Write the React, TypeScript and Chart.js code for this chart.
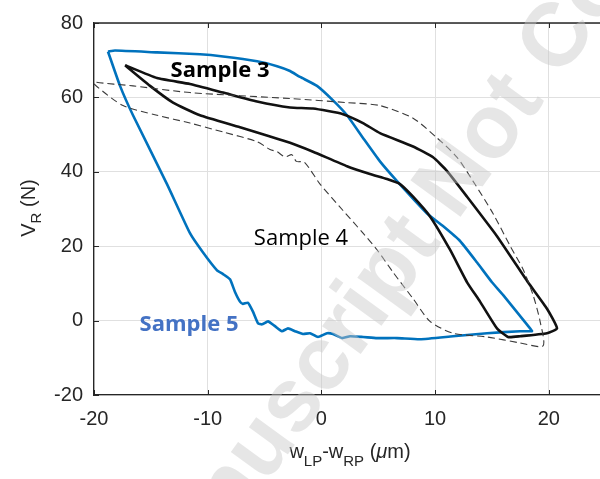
import React, { useEffect, useRef } from "react";
import { Chart, registerables } from "chart.js";

Chart.register(...registerables);

// ---- data ----
const sample5X = [-18.77, -18.15, -14.46, -10.68, -8.65, -5.66, -3.9, -2.76, -1.88, -0.39, 1.02, 2.25, 3.66, 5.15, 6.65, 9.29, 10.69, 12.19, 13.69, 15.0, 15.97, 18.35, 18.52, 17.47, 14.57, 11.57, 8.67, 6.65, 4.89, 3.66, 2.52, 1.81, 1.02, 0.49, -0.3, -1.0, -1.62, -2.32, -2.94, -3.47, -4.08, -4.7, -5.22, -5.58, -6.02, -6.46, -6.9, -7.16, -7.6, -8.04, -8.65, -9.18, -10.41, -11.56, -13.58, -16.57, -17.71, -18.77];
const sample5Y = [72.35, 72.6, 72.1, 71.6, 71.0, 69.7, 68.4, 67.1, 65.5, 63.1, 59.2, 55.2, 49.1, 42.8, 37.5, 28.8, 25.4, 21.4, 15.6, 10.3, 6.9, -2.1, -2.85, -2.85, -3.4, -4.2, -5.0, -4.7, -4.7, -4.4, -4.2, -4.7, -3.6, -3.4, -4.4, -3.4, -3.6, -2.85, -2.1, -2.85, -1.5, -0.2, -1.0, -0.7, 2.4, 4.8, 4.5, 5.1, 7.7, 11.1, 12.5, 13.5, 18.3, 23.5, 36.7, 55.2, 63.1, 72.35];

const sample3X = [-17.27, -14.46, -11.56, -8.65, -5.66, -2.76, -0.74, 1.9, 3.66, 5.15, 8.06, 9.82, 11.05, 12.81, 15.44, 18.17, 19.84, 20.72, 19.84, 17.47, 16.41, 15.44, 13.95, 12.81, 11.31, 9.55, 8.06, 6.91, 5.77, 4.27, 2.25, -0.74, -2.76, -7.16, -10.68, -13.05, -15.07, -17.27];
const sample3Y = [68.65, 65.2, 63.6, 61.3, 58.9, 57.3, 57.0, 55.5, 53.1, 50.4, 46.8, 43.9, 40.2, 33.3, 22.7, 10.3, 3.2, -2.1, -3.4, -4.2, -4.4, -2.1, 5.1, 10.3, 19.05, 28.0, 33.3, 36.7, 38.05, 39.4, 41.5, 45.4, 47.8, 52.0, 55.2, 58.6, 63.1, 68.65];

const sample4X = [-20.6, -20, -16.57, -11.56, -2.76, 2.25, 5.15, 8.06, 10.17, 11.93, 13.33, 15.09, 16.59, 17.73, 18.61, 19.23, 19.49, 17.47, 14.57, 11.57, 9.55, 8.06, 6.3, 4.89, 3.66, 1.9, -0.12, -1.5, -2.2, -2.6, -3.2, -3.9, -4.52, -5.66, -8.65, -11.56, -14.46, -17.45, -19.7, -20.6];
const sample4Y = [65.5, 64.2, 63.1, 61.3, 59.7, 58.6, 57.8, 54.4, 49.1, 43.9, 37.5, 28.8, 20.1, 13.8, 6.9, -0.2, -6.8, -6.0, -4.4, -3.4, -0.2, 5.9, 13.0, 19.05, 23.5, 29.6, 36.7, 42.6, 42.8, 44.6, 44.0, 45.4, 46.0, 48.1, 50.7, 53.1, 55.2, 57.8, 62.8, 65.5];

const xTickValues = [-20, -10, 0, 10, 20];
const yTickValues = [-20, 0, 20, 40, 60, 80];
const xLimits = [-20, 24.5];
const yLimits = [-20, 80];

const seriesLabels = ["Sample 3", "Sample 4", "Sample 5"];
const watermarkText = "Accepted Manuscript Not Copyedited";

const toPoints = (xs: number[], ys: number[]) => xs.map((x, i) => ({ x, y: ys[i] }));

const AXIS_COLOR = "#262626";

type Seg = { text: string; font: string; dy: number };

function drawRich(ctx: CanvasRenderingContext2D, segs: Seg[], cx: number, cy: number) {
  let total = 0;
  const widths = segs.map((s) => {
    ctx.font = s.font;
    const w = ctx.measureText(s.text).width;
    total += w;
    return w;
  });
  let x = cx - total / 2;
  segs.forEach((s, i) => {
    ctx.font = s.font;
    ctx.fillText(s.text, x, cy + s.dy);
    x += widths[i];
  });
}

const decorPlugin = {
  id: "decor",
  afterDatasetsDraw(chart: any) {
    const ctx: CanvasRenderingContext2D = chart.ctx;
    const { left, right, top, bottom } = chart.chartArea;
    const xs = chart.scales.x;
    const ys = chart.scales.y;
    ctx.save();
    // top border
    ctx.strokeStyle = AXIS_COLOR;
    ctx.lineWidth = 1.3;
    ctx.beginPath();
    ctx.moveTo(left, top);
    ctx.lineTo(right, top);
    ctx.stroke();
    // inward tick marks
    ctx.lineWidth = 1;
    ctx.beginPath();
    xTickValues.forEach((v) => {
      const px = Math.round(xs.getPixelForValue(v)) + 0.5;
      ctx.moveTo(px, bottom);
      ctx.lineTo(px, bottom - 5);
      ctx.moveTo(px, top);
      ctx.lineTo(px, top + 5);
    });
    yTickValues.forEach((v) => {
      const py = Math.round(ys.getPixelForValue(v)) + 0.5;
      ctx.moveTo(left, py);
      ctx.lineTo(left + 5, py);
    });
    ctx.stroke();

    // annotations
    ctx.textAlign = "left";
    ctx.textBaseline = "alphabetic";
    ctx.fillStyle = "#000000";
    drawRich(ctx, [{ text: seriesLabels[0], font: "bold 22px 'Open Sans', sans-serif", dy: 0 }], 220, 77);
    drawRich(ctx, [{ text: seriesLabels[1], font: "22px 'Open Sans', sans-serif", dy: 0 }], 301, 245);
    ctx.fillStyle = "#4472C4";
    drawRich(ctx, [{ text: seriesLabels[2], font: "bold 22px 'Open Sans', sans-serif", dy: 0 }], 189, 331);

    // axis titles
    ctx.fillStyle = AXIS_COLOR;
    const big = "20px 'Liberation Sans', Arial, sans-serif";
    const small = "15px 'Liberation Sans', Arial, sans-serif";
    const ital = "italic 20px 'Liberation Sans', Arial, sans-serif";
    drawRich(
      ctx,
      [
        { text: "w", font: big, dy: 0 },
        { text: "LP", font: small, dy: 8 },
        { text: "-w", font: big, dy: 0 },
        { text: "RP", font: small, dy: 8 },
        { text: " (", font: big, dy: 0 },
        { text: "\u03bc", font: ital, dy: 0 },
        { text: "m)", font: big, dy: 0 },
      ],
      350,
      458
    );
    ctx.save();
    ctx.translate(35, 208);
    ctx.rotate(-Math.PI / 2);
    drawRich(
      ctx,
      [
        { text: "V", font: big, dy: 0 },
        { text: "R", font: small, dy: 6 },
        { text: " (N)", font: big, dy: 0 },
      ],
      0,
      0
    );
    ctx.restore();
    ctx.restore();
  },
  afterDraw(chart: any) {
    const ctx: CanvasRenderingContext2D = chart.ctx;
    ctx.save();
    const F = 90;
    ctx.font = `bold ${F}px 'Liberation Sans', Arial, sans-serif`;
    ctx.fillStyle = "rgba(200,200,200,0.45)";
    ctx.textAlign = "left";
    ctx.textBaseline = "alphabetic";
    ctx.translate(294, 406);
    ctx.rotate((-54 * Math.PI) / 180);
    const pre = ctx.measureText("Accepted Manu").width;
    const sw = ctx.measureText("s").width;
    ctx.fillText(watermarkText, -pre - sw / 2, 0.26 * F);
    ctx.restore();
  },
};

export default function App() {
  const ref = useRef<HTMLCanvasElement | null>(null);
  useEffect(() => {
    if (!ref.current) return;
    const chart = new Chart(ref.current, {
      type: "scatter",
      data: {
        datasets: [
          {
            label: seriesLabels[1],
            data: toPoints(sample4X, sample4Y),
            showLine: true,
            borderColor: "#3a3a3a",
            borderWidth: 1.1,
            borderDash: [7, 4],
            pointRadius: 0,
            tension: 0.25,
          },
          {
            label: seriesLabels[0],
            data: toPoints(sample3X, sample3Y),
            showLine: true,
            borderColor: "#111111",
            borderWidth: 2.6,
            pointRadius: 0,
            tension: 0.15,
          },
          {
            label: seriesLabels[2],
            data: toPoints(sample5X, sample5Y),
            showLine: true,
            borderColor: "#0072BD",
            borderWidth: 2.6,
            pointRadius: 0,
            tension: 0.15,
          },
        ],
      },
      options: {
        animation: false,
        responsive: false,
        devicePixelRatio: 1,
        layout: { padding: { top: 16, right: 0, left: 0, bottom: 0 } },
        plugins: { legend: { display: false }, tooltip: { enabled: false } },
        scales: {
          x: {
            type: "linear",
            min: xLimits[0],
            max: xLimits[1],
            afterFit: (s: any) => {
              s.height = 84;
            },
            afterBuildTicks: (s: any) => {
              s.ticks = xTickValues.map((v) => ({ value: v }));
            },
            grid: { color: "#e0e0e0", drawTicks: false },
            border: { display: true, color: AXIS_COLOR, width: 1.3 },
            ticks: {
              color: AXIS_COLOR,
              font: { family: "'Liberation Sans', Arial, sans-serif", size: 20 },
              padding: 12,
              maxRotation: 0,
              autoSkip: false,
            },
          },
          y: {
            type: "linear",
            min: yLimits[0],
            max: yLimits[1],
            afterFit: (s: any) => {
              s.width = 94;
            },
            afterBuildTicks: (s: any) => {
              s.ticks = yTickValues.map((v) => ({ value: v }));
            },
            grid: { color: "#e0e0e0", drawTicks: false },
            border: { display: true, color: AXIS_COLOR, width: 1.3 },
            ticks: {
              color: AXIS_COLOR,
              font: { family: "'Liberation Sans', Arial, sans-serif", size: 20 },
              padding: 11,
              autoSkip: false,
            },
          },
        },
      },
      plugins: [decorPlugin],
    });
    return () => chart.destroy();
  }, []);
  return (
    <div style={{ position: "fixed", left: 0, top: 0, width: 600, height: 479, background: "#ffffff" }}>
      <canvas ref={ref} width={600} height={479} style={{ width: 600, height: 479, display: "block" }} />
    </div>
  );
}
